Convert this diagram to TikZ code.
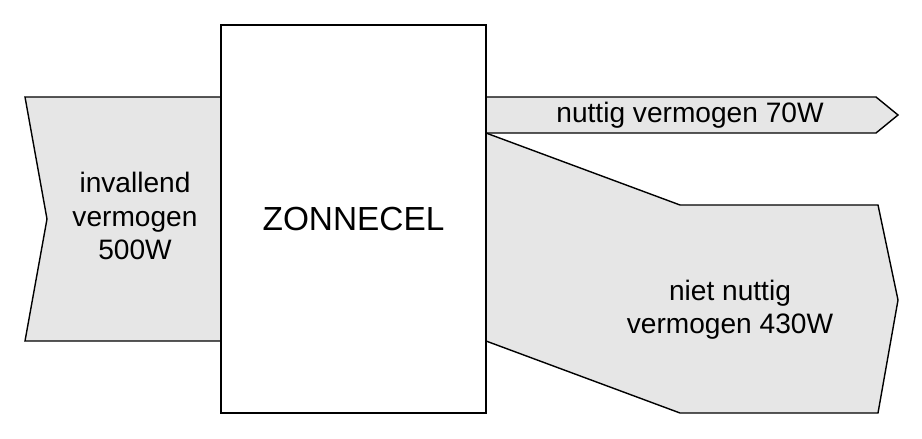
\documentclass[tikz,border=0pt]{standalone}
\usepackage{fontspec}
\setmainfont{Liberation Sans}
\definecolor{flowgray}{HTML}{E6E6E6}
\begin{document}
\begin{tikzpicture}[x=0.02cm,y=-0.02cm,
  flow/.style={draw,fill=flowgray,line width=0.8pt,line join=miter},
  label/.style={font=\fontsize{16}{19}\selectfont,align=center}]
        \useasboundingbox (0,0) rectangle (922,439);

        %flows
        \draw[flow] (25,97) -- (221,97) -- (221,341) -- (25,341) -- (47,219) -- cycle;
        \draw[flow] (486,97) -- (876,97) -- (898,115) -- (876,133) -- (486,133) -- cycle;
        \draw[flow] (486,133) -- (680,205) -- (878,205) -- (898,300) -- (878,413) -- (680,413) -- (486,341) -- cycle;

        %cell
        \node[draw,fill=white,line width=0.8pt,minimum width=5.3cm,minimum height=7.76cm,
              font=\fontsize{19}{22}\selectfont] (cel) at (353.5,219) {ZONNECEL};

        %labels
        \node[label] (in) at (135,216) {invallend\\vermogen\\500W};
        \node[label] (nuttig) at (690,115) {nuttig vermogen 70W};
        \node[label] (verlies) at (730,310) {niet nuttig\\vermogen 430W};
\end{tikzpicture}
\end{document}
